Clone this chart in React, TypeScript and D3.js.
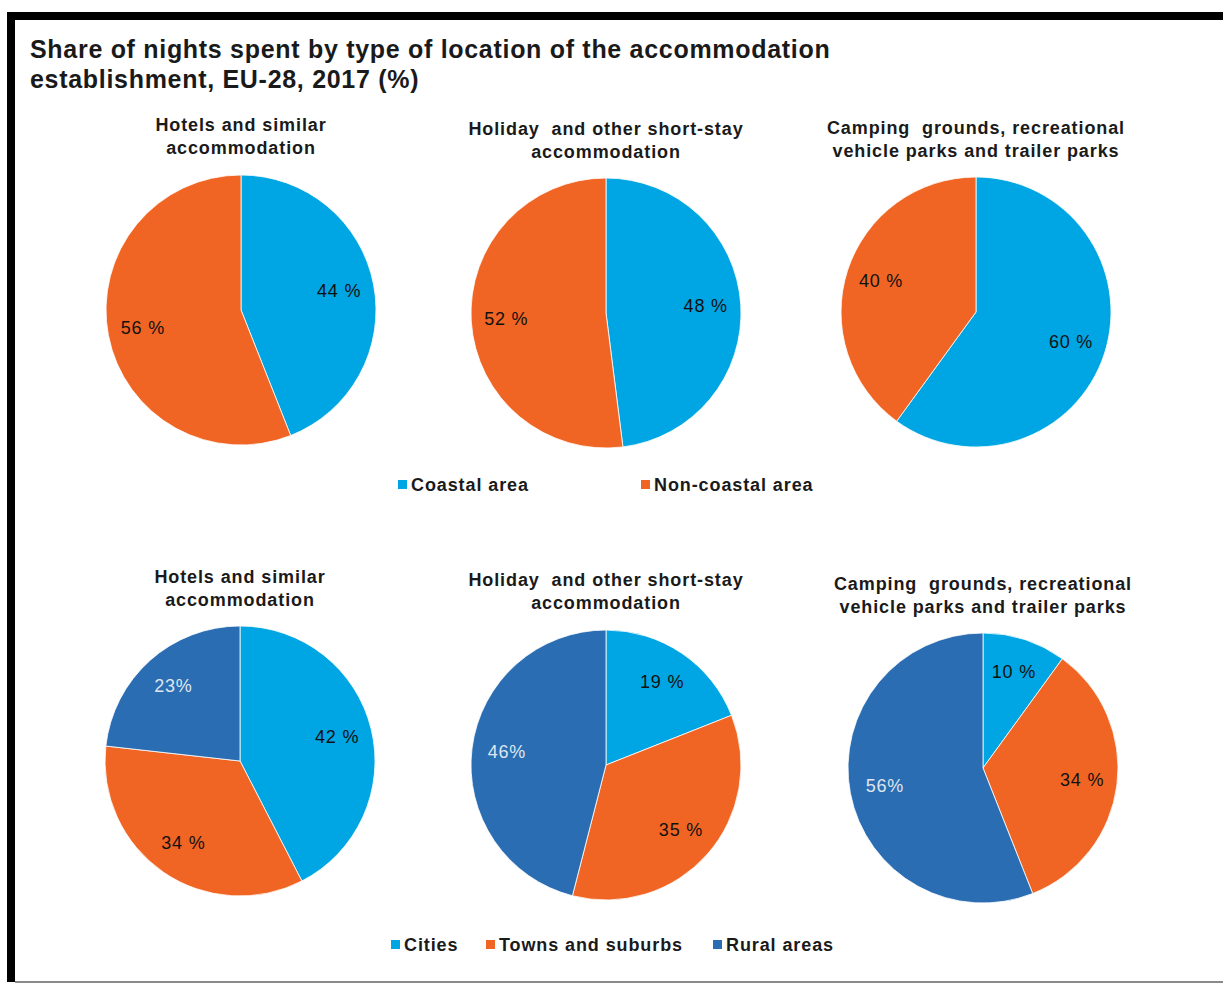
import React, { useRef, useEffect } from 'react';
import * as d3 from 'd3';

// data
const panelTitles = [
  ['Hotels and similar', 'accommodation'],
  ['Holiday  and other short-stay', 'accommodation'],
  ['Camping  grounds, recreational', 'vehicle parks and trailer parks'],
];
const coastalCategories = ['Coastal area', 'Non-coastal area'];
const coastalValues = [
  [44, 56],
  [48, 52],
  [60, 40],
];
const urbanCategories = ['Cities', 'Towns and suburbs', 'Rural areas'];
const urbanValues = [
  [42, 34, 23],
  [19, 35, 46],
  [10, 34, 56],
];

const COLORS = ['#00a5e3', '#f16524', '#2a6db3'];
const LABEL_COLORS = ['#111', '#111', '#dfe6ee'];
const FONT = 'Liberation Sans, Arial, sans-serif';

const App = () => {
  const svgRef = useRef<SVGSVGElement>(null);

  useEffect(() => {
    if (!svgRef.current) return;
    const width = 1223;
    const height = 983;
    const svg = d3.select(svgRef.current)
      .attr('width', width)
      .attr('height', height)
      .attr('viewBox', `0 0 ${width} ${height}`);
    svg.selectAll('*').remove();

    svg.append('rect').attr('width', width).attr('height', height).attr('fill', 'white');

    // frame
    svg.append('rect').attr('x', 7).attr('y', 12).attr('width', width - 7).attr('height', 8).attr('fill', '#000');
    svg.append('rect').attr('x', 7).attr('y', 12).attr('width', 8).attr('height', 970).attr('fill', '#000');
    svg.append('rect').attr('x', 15).attr('y', 981).attr('width', width - 15).attr('height', 2).attr('fill', '#8a8a8a');

    // main title
    const title = svg.append('text')
      .attr('font-family', FONT)
      .attr('font-size', '25px')
      .attr('font-weight', 'bold')
      .attr('letter-spacing', '0.7px')
      .attr('fill', '#1a1a1a');
    title.append('tspan').attr('x', 30).attr('y', 58).text('Share of nights spent by type of location of the accommodation');
    title.append('tspan').attr('x', 30).attr('y', 88).text('establishment, EU-28, 2017 (%)');

    const R = 135;
    const pie = d3.pie<number>().sort(null).value(d => d);
    const arc = d3.arc<d3.PieArcDatum<number>>().innerRadius(0).outerRadius(R);
    const labelArc = d3.arc<d3.PieArcDatum<number>>().innerRadius(R * 0.74).outerRadius(R * 0.74);

    const centersTop = [[241, 310], [606, 313], [976, 312]];
    const centersBottom = [[240, 761], [606, 765], [983, 768]];
    const titleYTop = [131, 135, 134];
    const titleYBottom = [583, 586, 590];

    const drawRow = (values: number[][], centers: number[][], titleY: number[]) => {
      values.forEach((vals, i) => {
        const [cx, cy] = centers[i];
        const g = svg.append('g').attr('transform', `translate(${cx},${cy})`);
        const arcs = pie(vals);
        g.selectAll('path.slice')
          .data(arcs)
          .enter()
          .append('path')
          .attr('class', 'slice')
          .attr('d', arc)
          .attr('fill', (_, j) => COLORS[j])
          .attr('stroke', 'white')
          .attr('stroke-width', 0.8);
        g.selectAll('text.lbl')
          .data(arcs)
          .enter()
          .append('text')
          .attr('class', 'lbl')
          .attr('transform', d => `translate(${labelArc.centroid(d)})`)
          .attr('text-anchor', 'middle')
          .attr('dy', '0.3em')
          .attr('font-family', FONT)
          .attr('font-size', '18px')
          .attr('letter-spacing', '0.8px')
          .attr('fill', (_, j) => LABEL_COLORS[j])
          .text((d, j) => (j === 2 ? `${d.data}%` : `${d.data} %`));

        const t = svg.append('text')
          .attr('text-anchor', 'middle')
          .attr('font-family', FONT)
          .attr('font-size', '18px')
          .attr('font-weight', 'bold')
          .attr('letter-spacing', '0.9px')
          .attr('fill', '#1a1a1a')
          .style('white-space', 'pre');
        panelTitles[i].forEach((line, k) => {
          t.append('tspan').attr('x', cx).attr('y', titleY[i] + k * 23).text(line);
        });
      });
    };

    drawRow(coastalValues, centersTop, titleYTop);
    drawRow(urbanValues, centersBottom, titleYBottom);

    // legends
    const drawLegend = (cats: string[], xs: number[], y: number) => {
      cats.forEach((c, i) => {
        svg.append('rect')
          .attr('x', xs[i])
          .attr('y', y - 11)
          .attr('width', 9)
          .attr('height', 9)
          .attr('fill', COLORS[i]);
        svg.append('text')
          .attr('x', xs[i] + 13)
          .attr('y', y)
          .attr('font-family', FONT)
          .attr('font-size', '18px')
          .attr('font-weight', 'bold')
          .attr('letter-spacing', '0.9px')
          .attr('fill', '#1a1a1a')
          .text(c);
      });
    };
    drawLegend(coastalCategories, [398, 641], 491);
    drawLegend(urbanCategories, [391, 486, 713], 951);
  }, []);

  return <svg ref={svgRef} style={{ position: 'absolute', left: 0, top: 0, display: 'block' }} />;
};

export default App;
